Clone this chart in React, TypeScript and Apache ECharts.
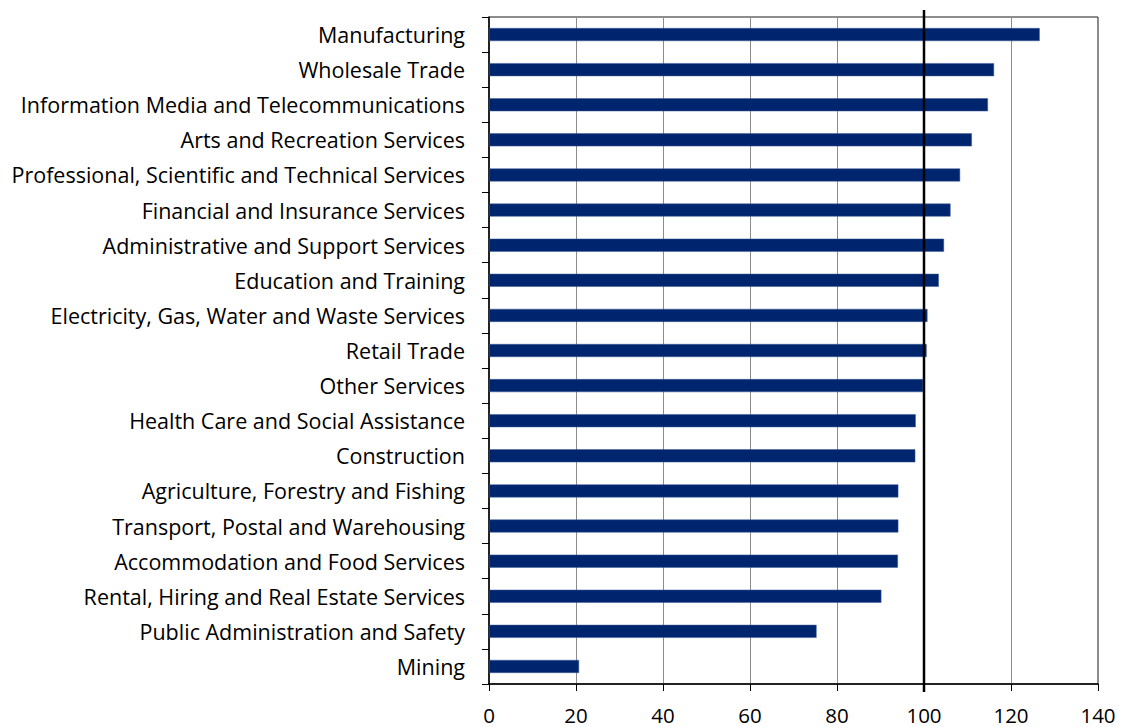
import React, { useEffect, useRef } from "react";
import * as echarts from "echarts";

const categories = [
  "Manufacturing",
  "Wholesale Trade",
  "Information Media and Telecommunications",
  "Arts and Recreation Services",
  "Professional, Scientific and Technical Services",
  "Financial and Insurance Services",
  "Administrative and Support Services",
  "Education and Training",
  "Electricity, Gas, Water and Waste Services",
  "Retail Trade",
  "Other Services",
  "Health Care and Social Assistance",
  "Construction",
  "Agriculture, Forestry and Fishing",
  "Transport, Postal and Warehousing",
  "Accommodation and Food Services",
  "Rental, Hiring and Real Estate Services",
  "Public Administration and Safety",
  "Mining",
];

const values = [
  126.6, 116.1, 114.7, 111.0, 108.3, 106.1, 104.6, 103.4, 100.8, 100.6, 99.8, 98.1, 98.0,
  94.1, 94.1, 94.0, 90.2, 75.3, 20.7,
];

const referenceValue = 100;
const xMin = 0;
const xMax = 140;
const xStep = 20;

const FONT = "'Open Sans', sans-serif";

export default function App() {
  const ref = useRef<HTMLDivElement>(null);

  useEffect(() => {
    if (!ref.current) return;
    const chart = echarts.init(ref.current, null, { renderer: "svg" });
    const gridTop = 17;
    const gridBottom = 43;
    chart.setOption({
      animation: false,
      backgroundColor: "#ffffff",
      grid: {
        left: 489,
        right: 24,
        top: gridTop,
        bottom: gridBottom,
        show: true,
        borderColor: "#1a1a1a",
        borderWidth: 1,
        backgroundColor: "transparent",
      },
      xAxis: {
        type: "value",
        min: xMin,
        max: xMax,
        interval: xStep,
        axisLine: { show: true, onZero: false, lineStyle: { color: "#000", width: 1.5 } },
        axisTick: { show: true, length: 7, lineStyle: { color: "#000", width: 1 } },
        axisLabel: { color: "#000", fontSize: 20.5, fontFamily: FONT, margin: 20 },
        splitLine: { show: true, lineStyle: { color: "#8c8c8c", width: 1 } },
      },
      yAxis: {
        type: "category",
        data: categories,
        inverse: true,
        axisLine: { show: true, lineStyle: { color: "#000", width: 1.5 } },
        axisTick: { show: true, length: 7, alignWithLabel: false, lineStyle: { color: "#000", width: 1 } },
        axisLabel: { color: "#000", fontSize: 21.5, fontFamily: FONT, margin: 24 },
        splitLine: { show: false },
      },
      series: [
        {
          type: "bar",
          data: values,
          barWidth: 13,
          itemStyle: { color: "#00256F", borderColor: "#3b5a96", borderWidth: 0.5 },
        },
      ],
    });

    const x100 = chart.convertToPixel({ xAxisIndex: 0 }, referenceValue) as number;
    const h = ref.current.clientHeight;
    chart.setOption({
      graphic: [
        {
          type: "line",
          z: 100,
          shape: { x1: x100, y1: gridTop - 7, x2: x100, y2: h - gridBottom + 8 },
          style: { stroke: "#000", lineWidth: 2.5 },
        },
      ],
    });

    return () => chart.dispose();
  }, []);

  return (
    <div
      ref={ref}
      style={{ position: "fixed", left: 0, top: 0, width: 1122, height: 727 }}
    />
  );
}
